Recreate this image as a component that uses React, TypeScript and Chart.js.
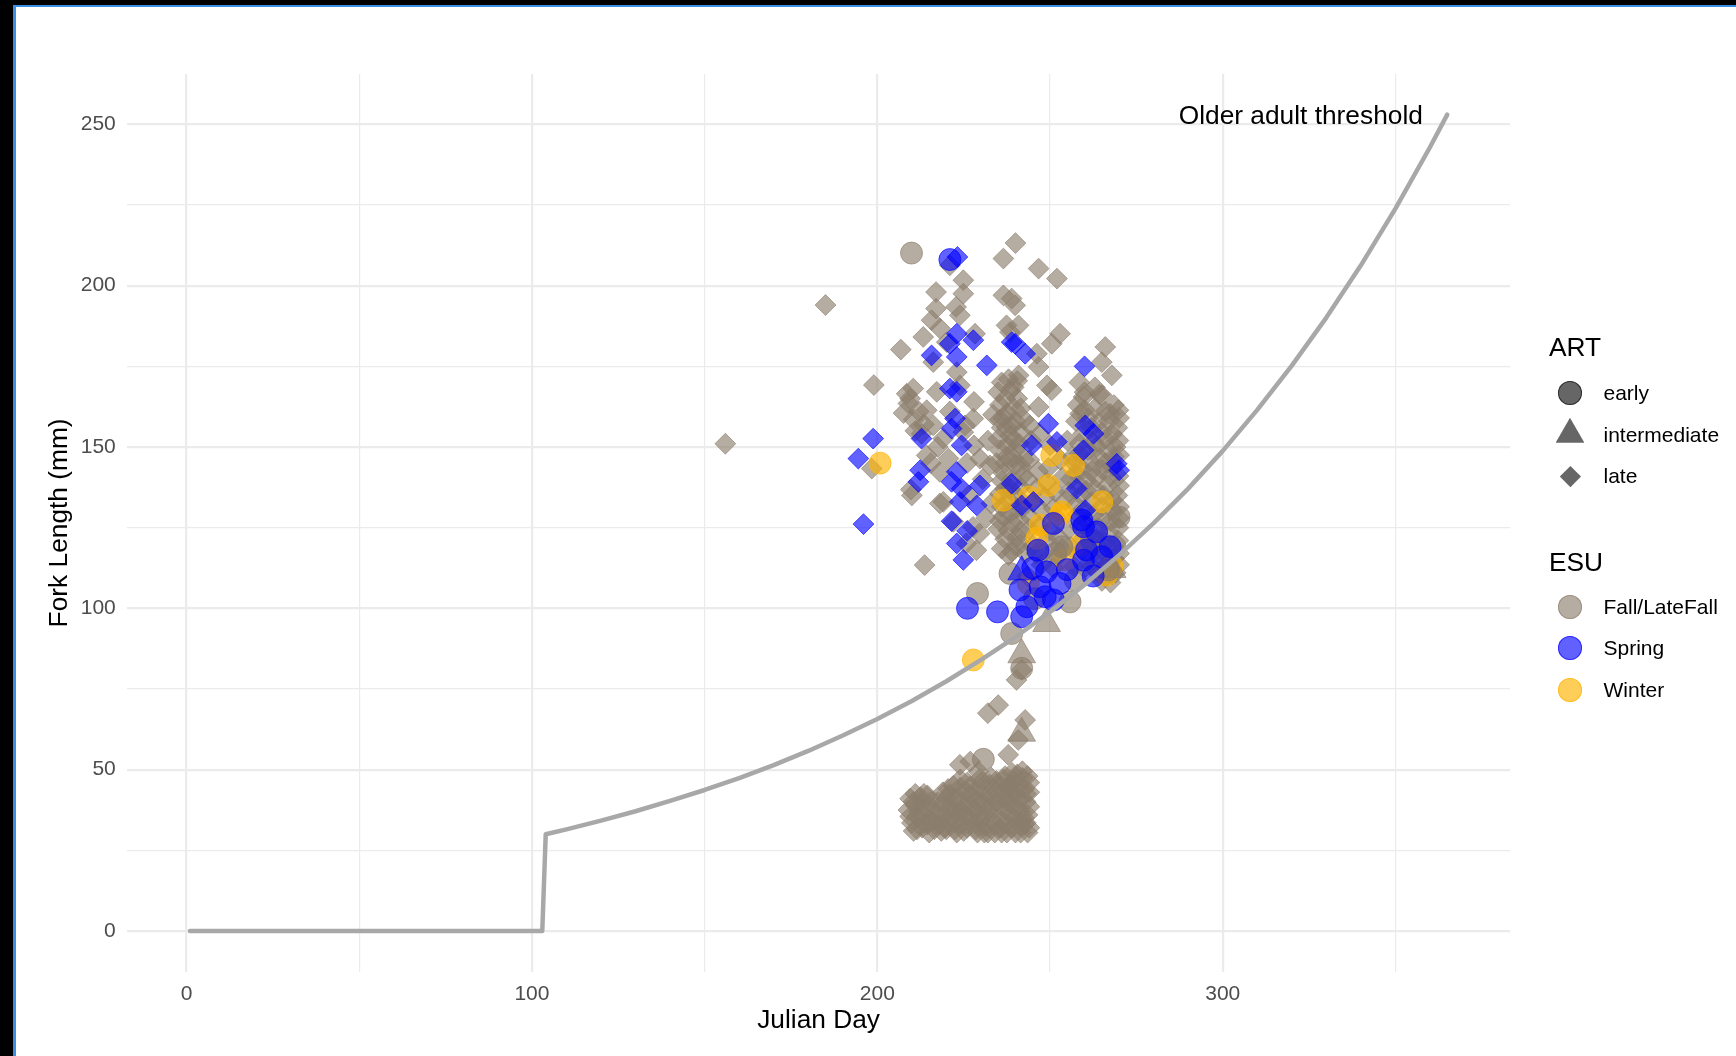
import React, { useEffect, useRef } from "react";
import { Chart, registerables } from "chart.js";

Chart.register(...registerables);

const FONT = '"Liberation Sans", Arial, Helvetica, sans-serif';

// ---- axes ----
const xMajorTicks = [0, 100, 200, 300];
const xMinorTicks = [50, 150, 250, 350];
const yMajorTicks = [0, 50, 100, 150, 200, 250];
const yMinorTicks = [25, 75, 125, 175, 225];
const xRange = [-17.2, 383.2];
const yRange = [-12.65, 265.6];
const xTitle = "Julian Day";
const yTitle = "Fork Length (mm)";

// ---- threshold curve ----
const thresholdDay = [1, 103, 104, 110, 120, 130, 140, 150, 160, 170, 180, 190, 200, 210, 220, 230, 240, 250, 260, 270, 280, 290, 300, 310, 320, 330, 340, 350, 360, 365];
const thresholdFL = [0, 0, 30.0, 31.5, 34.2, 37.1, 40.3, 43.7, 47.4, 51.4, 55.8, 60.6, 65.7, 71.3, 77.4, 84.0, 91.1, 98.9, 107.3, 116.5, 126.4, 137.1, 148.8, 161.5, 175.2, 190.1, 206.3, 223.9, 242.9, 253.0];
const thresholdLabel = "Older adult threshold";
const thresholdLabelDay = 322.6;
const thresholdLabelFL = 252.2;

// ---- observations: [julian day, fork length] ----
type Pt = [number, number];

const fallLate: Pt[] = [
  [156, 151], [185, 194], [199, 169.2], [198.4, 143.3], [206.8, 180.2], [213.7, 113.4], [209.7, 136.8],
  [240, 213.2], [236.5, 208.4], [246.7, 205.3], [252, 202.2], [221, 206.3], [224.9, 201.7], [217, 198], [224.9, 197.5],
  [222.8, 193.4], [217, 192.9], [215.7, 189.3], [223.9, 190.8], [218.2, 186.7], [213.3, 184.1], [228.3, 185.1], [220.1, 182.5],
  [236.5, 197], [238.9, 196], [239.9, 193.9], [240.9, 187.7], [237.4, 187.7], [238.4, 185.6], [252.9, 185.1], [250.5, 182],
  [246.2, 178.9], [246.7, 174.8], [240.9, 172.2], [266, 181], [265, 176.3], [267.9, 172.2], [249.1, 169.1], [250.5, 167.6],
  [246.7, 162.4], [244.2, 156.7], [259.7, 165.5], [265, 166], [258.7, 160.3], [269.8, 161.4], [267.4, 160.3], [258.5, 170], [264.3, 166.3],
  [207.6, 160.5], [209, 163.5], [210.5, 158.5], [212, 161], [213.5, 157], [211, 155], [214.3, 161.4], [216.2, 156.7],
  [209.5, 165], [210.4, 168.1], [217.2, 167.1], [216.2, 176.3], [214.3, 147.4], [218.1, 142.3], [210, 135], [219.1, 133],
  [215.5, 145], [217.5, 150], [219.1, 152.6], [220.6, 146.4], [208.5, 166.5], [212.8, 154.1],
  [223.9, 169.1], [223, 173.2], [227.8, 158.8], [225.4, 156.7], [224.9, 154.6], [229.7, 146.4], [232.6, 144.3], [228, 150.5],
  [230.5, 140], [226.5, 135], [222, 126.8], [227.7, 125.2], [229.6, 123.2], [225.8, 120.1], [228.7, 118], [231.5, 128],
  [233, 132.5], [226, 145], [221, 161], [228, 164], [218.1, 132.5], [233.5, 160], [232, 152],
  [236, 170], [238.5, 167.5], [240.5, 165], [235.5, 163], [237.5, 160.5], [240, 158], [236, 156], [238.5, 153.5],
  [241, 151], [235.5, 149], [237.5, 147], [240, 144.5], [236.5, 142], [239, 140], [241.5, 137.5], [235.5, 135.5],
  [238, 133.5], [240.5, 131], [236.5, 128.5], [239, 126.5], [241.5, 124], [237, 121.5], [240, 119.5], [238, 116.5],
  [235, 124.5], [242.5, 146], [242.5, 158.5], [234.5, 145], [237, 137], [239.5, 162],
  [244, 146], [246.5, 142.5], [249, 139], [251.5, 136], [245, 133], [248, 130], [252, 128], [254.5, 133.5],
  [256, 140], [253, 146], [250, 150.5], [247, 154], [255, 152], [249, 121], [253.5, 118.5], [246, 117],
  [244, 124.5], [255.5, 124.5], [251, 112.5], [257, 113], [243.5, 110], [247.5, 113.5],
  [258, 163], [261, 159], [264, 157.5], [267, 158], [269.5, 156], [259.5, 154], [262.5, 151.5], [266, 152.5],
  [269, 150], [270, 147.5], [258.5, 148], [261.5, 145.5], [264.5, 146.5], [268, 144], [269.8, 141], [257.5, 142],
  [260.5, 139.5], [263.5, 140.5], [266.5, 138], [269.5, 135], [259, 135], [262, 133], [265, 131.5], [268, 130.5],
  [270, 128], [258, 129], [261, 126.5], [264, 125], [267, 123.5], [269.8, 121], [259.5, 121.5], [262.5, 119],
  [265.5, 117.5], [268.5, 115.5], [270, 113.5], [264, 111], [267.5, 108], [260, 112.5], [269.8, 152], [266, 145],
  [232, 67.5], [235, 70], [241.8, 80.9], [240.3, 77.8], [242.8, 65.4], [240.8, 59.2], [237.9, 54.6],
  [223.9, 51.5], [226.9, 52.5], [229.3, 49.4],
];

// denser packets inside the late-fall columns
const fallLateColumns: Pt[] = [
  [235, 167], [237, 165], [239.5, 168.5], [241.5, 162], [236.5, 159], [239, 156.5], [241.5, 154.5], [235, 152.5],
  [237.5, 150.5], [240, 149], [242, 141], [236, 139.5], [238.5, 137], [240.5, 134.5], [236, 131.5], [238.5, 129.5],
  [241, 127.5], [235.5, 127], [238, 124], [240.5, 122], [236, 118.5], [239, 117.5], [241.5, 120], [237, 145],
  [239.5, 152], [241.5, 144], [235.5, 158.5], [238, 171], [240.5, 170.5], [242, 131], [237.5, 156], [239.5, 146.5],
  [257.5, 158], [260, 161.5], [263, 162], [266, 161], [268.5, 163], [270, 159], [258.5, 151], [261, 149],
  [263.5, 150], [266.5, 149], [268.5, 147], [257, 145], [259.5, 143], [262, 142.5], [265, 143], [267.5, 141],
  [270, 138], [258, 138.5], [260.5, 136.5], [263, 137], [265.5, 135], [268, 133.5], [270, 131.5], [257.5, 132],
  [260, 130], [262.5, 129], [265, 128], [267.5, 127], [269.8, 125], [258.5, 125.5], [261, 123], [263.5, 121.5],
  [266, 120.5], [268.5, 119], [270, 117], [259, 118], [261.5, 116], [264, 115], [266.5, 113.5], [269, 111],
  [262, 113], [265, 108.5], [268, 110.5], [262, 156], [265, 154.5], [268, 154], [260, 167], [263, 168.5],
  [243.5, 140], [246, 137], [248.5, 134.5], [251, 131], [253.5, 140.5], [255.5, 136], [244.5, 128], [247, 125.5],
  [250, 124], [252.5, 122], [256, 119], [245, 119.5], [248, 117], [243, 117], [252, 116], [249.5, 143.5],
  [256.5, 147], [244.5, 152],
];

const fallLateJuvenile: Pt[] = [
  [209, 37.5], [209.5, 41], [210, 33.5], [211, 39], [211.5, 35.5], [212.5, 41.5], [213, 32], [214, 37.5],
  [215, 34.5], [215.5, 40], [216.5, 31.5], [217, 36.5], [218, 33], [210.5, 31], [213.5, 42.5],
  [219, 39.5], [219.5, 35.5], [220, 31.5], [221, 42.5], [221.5, 38], [222.5, 34], [223, 30.5], [224, 44.5],
  [224.5, 40], [225.5, 36], [226, 32], [227, 45], [227.5, 41.5], [228, 37.5], [228.5, 33.5], [229, 30.5],
  [230, 44], [230.5, 40], [231, 36], [231.5, 32.5], [232.5, 45.5], [233, 41.5], [233.5, 37.5], [234, 33.5],
  [222, 41], [226, 43], [229.5, 36], [232, 30.5], [220.5, 44], [225, 31], [224.5, 37], [231.5, 39],
  [234.5, 46.5], [235, 42], [235.5, 38], [236, 34], [236, 30.5], [237, 48], [237.5, 44], [238, 40],
  [238.5, 36], [239, 32], [239.5, 46.5], [240, 42.5], [240.5, 38.5], [241, 34.5], [241.5, 30.5], [242, 47.5],
  [242.5, 44], [243, 40], [243.5, 36], [244, 32], [244, 43], [243.5, 48], [240.5, 48.5], [237.5, 30.5],
  [242.5, 33], [239, 39],
  [209.5, 35.5], [210.5, 40], [211.5, 31.5], [212, 37], [213, 39.5], [214.5, 33], [214.5, 42], [216, 38],
  [216, 34], [217.5, 40], [218.5, 31], [217.5, 34.5], [211, 42.5], [212.5, 34.5], [215, 30.5],
  [219, 43], [219.5, 32], [220.5, 38], [221, 34.5], [222, 45], [223, 37], [223.5, 41.5], [224, 33],
  [225, 38.5], [226, 46], [226.5, 34], [227, 39], [228, 43], [228.5, 31.5], [229, 40.5], [230, 34],
  [230.5, 46.5], [231, 42], [232, 37.5], [233, 34], [233.5, 44], [234, 30.5], [220, 41], [222.5, 31.5],
  [224, 47], [227.5, 36], [229.5, 47], [231, 30.5], [233, 47.5], [221.5, 36],
  [234.5, 40], [235.5, 44.5], [235.5, 32], [236.5, 47], [237, 37.5], [237.5, 33.5], [238, 45], [238.5, 42],
  [239, 49], [239.5, 35], [240, 30.5], [240.5, 44.5], [241, 40.5], [241.5, 37], [242, 49.5], [242.5, 35],
  [243, 42.5], [243.5, 30.5], [244, 38.5], [244, 46], [236.5, 41], [239, 45], [241.5, 32.5], [243, 33.5],
];

const fallEarly: Pt[] = [
  [209.9, 210.1], [229, 104.6], [238.9, 92.2], [238.4, 110.8], [255.8, 102], [253.4, 119.1], [266.9, 111.9],
  [268.8, 119.1], [230.7, 53.2], [241.8, 81.4], [257.3, 108.8], [270, 128.3], [251.7, 117.1], [245.5, 103], [262, 121],
];

const fallIntermediate: Pt[] = [
  [249, 95.3], [241.8, 85.6], [241.8, 61.3], [268, 112],
];

const springLate: Pt[] = [
  [223.2, 208.9], [198.8, 152.6], [194.5, 146.4], [196, 126.1], [223, 185.1], [221, 182], [227.8, 183.1],
  [215.7, 178.4], [223, 177.9], [231.7, 175.3], [221, 168.1], [223, 167.1], [222.5, 158.8], [221.5, 155.7],
  [224.4, 150.5], [212.8, 152.6], [212.4, 142.8], [211.9, 139.2], [223, 142.3], [221.5, 139.2], [224.4, 137.1],
  [229.7, 138.1], [223.9, 133], [228.8, 131.9], [238.9, 182.5], [239.9, 182], [242.8, 178.9], [260, 175],
  [249.5, 157.2], [260.2, 156.7], [262.6, 154.1], [252, 151.6], [244.7, 150.5], [259.7, 149], [269.3, 144.8],
  [270, 142.8], [238.9, 138.6], [241.8, 131.9], [257.7, 137.1], [260.2, 130.4], [245.2, 133], [223, 120.1],
  [224.9, 115], [226, 124], [221.5, 127],
];

const springEarly: Pt[] = [
  [221, 208.1], [226.1, 100], [234.8, 98.9], [241.8, 97.4], [243.3, 100.5], [241.3, 105.7], [247.1, 106.7],
  [249, 111.3], [248.6, 103.6], [251, 102.6], [252.9, 107.7], [259.7, 114.9], [260.6, 118.1], [267.4, 119.1],
  [259.7, 125.3], [251, 126.3], [259.2, 127.4], [263.5, 123.7], [245, 112.5], [255, 112], [262.5, 110],
  [265, 116], [246.5, 118],
];

const springIntermediate: Pt[] = [[241.8, 111.3]];

const winterEarly: Pt[] = [
  [200.8, 145], [227.8, 84], [243.7, 107.7], [246.2, 121.7], [247.1, 125.8], [252.9, 128.9], [258.7, 119.6],
  [266.4, 110.3], [256.8, 144.3], [250.5, 147.4], [249.5, 138.1], [265, 133], [253.4, 129.9], [236.5, 133.5],
  [244, 134.5], [254, 115], [268, 113],
];

// ---- legend ----
const artTitle = "ART";
const artLevels = ["early", "intermediate", "late"];
const esuTitle = "ESU";
const esuLevels = ["Fall/LateFall", "Spring", "Winter"];

const FALL = "rgba(139,125,107,0.63)";
const SPRING = "rgba(0,0,255,0.62)";
const WINTER = "rgba(255,180,0,0.65)";
const ART_KEY = "rgba(0,0,0,0.6)";
const esuColors = [FALL, SPRING, WINTER];

const toXY = (pts: Pt[]) => pts.map(([x, y]) => ({ x, y }));

function scatterSet(label: string, pts: Pt[], style: string, radius: number, color: string, order: number) {
  return {
    type: "scatter" as const,
    label,
    data: toXY(pts),
    showLine: false,
    pointStyle: style,
    pointRadius: radius,
    pointHoverRadius: radius,
    pointBackgroundColor: color,
    pointBorderColor: color,
    pointBorderWidth: 1,
    order,
  };
}

const labelPlugin = {
  id: "thresholdLabel",
  afterDatasetsDraw(chart: any) {
    const { ctx, scales } = chart;
    ctx.save();
    ctx.font = `26.3px ${FONT}`;
    ctx.fillStyle = "#000000";
    ctx.textAlign = "center";
    ctx.textBaseline = "middle";
    ctx.fillText(
      thresholdLabel,
      scales.x.getPixelForValue(thresholdLabelDay),
      scales.y.getPixelForValue(thresholdLabelFL)
    );
    ctx.restore();
  },
};

function Key({ shape, color, cx, cy }: { shape: string; color: string; cx: number; cy: number }) {
  if (shape === "circle") {
    return (
      <div
        style={{
          position: "absolute", left: cx - 12, top: cy - 12, width: 24, height: 24, borderRadius: "50%",
          background: color, boxShadow: `inset 0 0 0 1px ${color}`,
        }}
      />
    );
  }
  if (shape === "triangle") {
    return (
      <div
        style={{
          position: "absolute", left: cx - 14.4, top: cy - 16.7, width: 28.8, height: 25,
          background: color, clipPath: "polygon(50% 0, 100% 100%, 0 100%)",
        }}
      />
    );
  }
  return (
    <div
      style={{
        position: "absolute", left: cx - 7.4, top: cy - 7.4, width: 14.8, height: 14.8,
        background: color, transform: "rotate(45deg)",
      }}
    />
  );
}

export default function App() {
  const ref = useRef<HTMLCanvasElement>(null);

  useEffect(() => {
    if (!ref.current) return;
    Chart.defaults.font.family = FONT;
    const xGrid = [...xMajorTicks, ...xMinorTicks].sort((a, b) => a - b);
    const yGrid = [...yMajorTicks, ...yMinorTicks].sort((a, b) => a - b);

    const chart = new Chart(ref.current, {
      type: "scatter",
      data: {
        datasets: [
          {
            type: "line",
            label: "threshold",
            data: thresholdDay.map((d, i) => ({ x: d, y: thresholdFL[i] })),
            borderColor: "#A8A8A8",
            borderWidth: 4.5,
            pointRadius: 0,
            fill: false,
            tension: 0,
            borderJoinStyle: "round",
            borderCapStyle: "round",
            order: 0,
          } as any,
          scatterSet("Spring early", springEarly, "circle", 11, SPRING, 1),
          scatterSet("Spring intermediate", springIntermediate, "triangle", 16, SPRING, 2),
          scatterSet("Spring late", springLate, "rectRot", 10.4, SPRING, 3),
          scatterSet("Fall intermediate", fallIntermediate, "triangle", 16, FALL, 4),
          scatterSet("Fall early", fallEarly, "circle", 11, FALL, 5),
          scatterSet("Winter early", winterEarly, "circle", 11, WINTER, 6),
          scatterSet("Fall late", fallLate, "rectRot", 10.4, FALL, 7),
          scatterSet("Fall late columns", fallLateColumns, "rectRot", 10.4, FALL, 8),
          scatterSet("Fall late juvenile", fallLateJuvenile, "rectRot", 10.4, FALL, 9),
        ] as any,
      },
      options: {
        responsive: false,
        animation: false,
        events: [],
        layout: { padding: { left: 0, top: 74, right: 225.9, bottom: 0 } },
        plugins: {
          legend: { display: false },
          tooltip: { enabled: false },
          title: { display: false },
        },
        scales: {
          x: {
            type: "linear",
            min: xRange[0],
            max: xRange[1],
            afterBuildTicks: (s: any) => {
              s.ticks = xGrid.map((value) => ({ value }));
            },
            afterFit: (s: any) => {
              s.height = 84.2;
            },
            grid: {
              color: "#EBEBEB",
              lineWidth: (c: any) => (c.tick && xMajorTicks.includes(c.tick.value) ? 2.2 : 1.2),
              drawTicks: false,
            },
            border: { display: false },
            ticks: {
              autoSkip: false,
              maxRotation: 0,
              padding: 9.6,
              color: "#4D4D4D",
              font: { size: 21, family: FONT },
              callback: (v: any) => (xMajorTicks.includes(Number(v)) ? String(v) : ""),
            },
            title: {
              display: true,
              text: xTitle,
              color: "#000000",
              font: { size: 26.3, family: FONT },
              padding: { top: 0, bottom: 19.3 },
            },
          },
          y: {
            type: "linear",
            min: yRange[0],
            max: yRange[1],
            afterBuildTicks: (s: any) => {
              s.ticks = yGrid.map((value) => ({ value }));
            },
            afterFit: (s: any) => {
              s.width = 127.1;
            },
            grid: {
              color: "#EBEBEB",
              lineWidth: (c: any) => (c.tick && yMajorTicks.includes(c.tick.value) ? 2.2 : 1.2),
              drawTicks: false,
            },
            border: { display: false },
            ticks: {
              autoSkip: false,
              padding: 11.3,
              color: "#4D4D4D",
              font: { size: 21, family: FONT },
              callback: (v: any) => (yMajorTicks.includes(Number(v)) ? String(v) : ""),
            },
            title: {
              display: true,
              text: yTitle,
              color: "#000000",
              font: { size: 26.3, family: FONT },
              padding: { top: 44.2, bottom: 0 },
            },
          },
        },
      } as any,
      plugins: [labelPlugin],
    });
    return () => chart.destroy();
  }, []);

  const keyX = 1570;
  const artRows = [393, 434.5, 476];
  const esuRows = [606.7, 648.3, 690];
  const artShapes = ["circle", "triangle", "diamond"];
  const titleStyle: React.CSSProperties = {
    position: "absolute", left: 1549, fontFamily: FONT, fontSize: 26.3, lineHeight: "32px",
    color: "#000", whiteSpace: "nowrap",
  };
  const labelStyle: React.CSSProperties = {
    position: "absolute", left: 1603.5, fontFamily: FONT, fontSize: 21, lineHeight: "24px",
    color: "#000", whiteSpace: "nowrap",
  };

  return (
    <div style={{ position: "fixed", left: 0, top: 0, width: 1736, height: 1056, background: "#000", overflow: "hidden" }}>
      <div
        style={{
          position: "absolute", left: 13, top: 5, right: 0, bottom: 0, background: "#fff",
          borderLeft: "3px solid #3A8EE6", borderTop: "2px solid #3A8EE6",
        }}
      />
      <canvas
        ref={ref}
        width={1736}
        height={1056}
        style={{ position: "absolute", left: 0, top: 0, width: 1736, height: 1056 }}
      />
      <div style={{ ...titleStyle, top: 330.9 }}>{artTitle}</div>
      {artLevels.map((lv, i) => (
        <React.Fragment key={lv}>
          <Key shape={artShapes[i]} color={ART_KEY} cx={keyX} cy={artRows[i]} />
          <div style={{ ...labelStyle, top: artRows[i] - 12 }}>{lv}</div>
        </React.Fragment>
      ))}
      <div style={{ ...titleStyle, top: 545.6 }}>{esuTitle}</div>
      {esuLevels.map((lv, i) => (
        <React.Fragment key={lv}>
          <Key shape="circle" color={esuColors[i]} cx={keyX} cy={esuRows[i]} />
          <div style={{ ...labelStyle, top: esuRows[i] - 12 }}>{lv}</div>
        </React.Fragment>
      ))}
    </div>
  );
}
